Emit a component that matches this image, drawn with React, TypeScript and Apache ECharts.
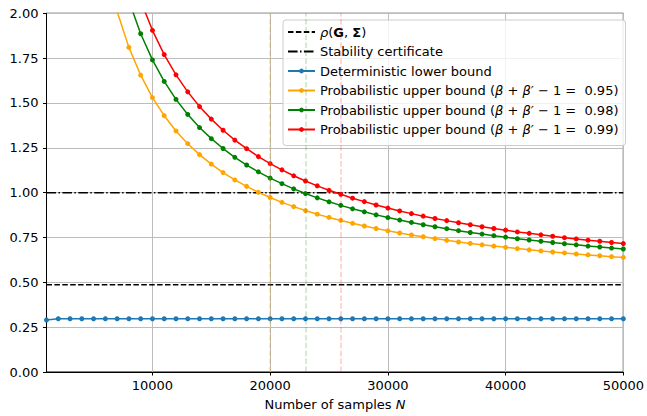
import React, { useEffect, useRef } from 'react';
import * as echarts from 'echarts';

const samples = [
  1000, 2000, 3000, 4000, 5000, 6000, 7000, 8000, 9000, 10000,
  11000, 12000, 13000, 14000, 15000, 16000, 17000, 18000, 19000, 20000,
  21000, 22000, 23000, 24000, 25000, 26000, 27000, 28000, 29000, 30000,
  31000, 32000, 33000, 34000, 35000, 36000, 37000, 38000, 39000, 40000,
  41000, 42000, 43000, 44000, 45000, 46000, 47000, 48000, 49000, 50000,
];

const detLower = [
  0.290, 0.297, 0.297, 0.297, 0.297, 0.297, 0.297, 0.297, 0.297, 0.297,
  0.297, 0.297, 0.297, 0.297, 0.297, 0.297, 0.297, 0.297, 0.297, 0.297,
  0.297, 0.297, 0.297, 0.297, 0.297, 0.297, 0.297, 0.297, 0.297, 0.297,
  0.297, 0.297, 0.297, 0.297, 0.297, 0.297, 0.297, 0.297, 0.297, 0.297,
  0.297, 0.297, 0.297, 0.297, 0.297, 0.297, 0.297, 0.297, 0.297, 0.297,
];

const prob95 = [
  null, null, null, null, null, 2.27, 2.01, 1.81, 1.655, 1.530,
  1.429, 1.344, 1.273, 1.212, 1.159, 1.112, 1.071, 1.035, 1.002, 0.973,
  0.946, 0.922, 0.900, 0.880, 0.862, 0.845, 0.829, 0.814, 0.800, 0.787,
  0.775, 0.764, 0.754, 0.744, 0.734, 0.725, 0.717, 0.709, 0.702, 0.695,
  0.688, 0.681, 0.675, 0.669, 0.664, 0.658, 0.653, 0.648, 0.643, 0.639,
];

const prob98 = [
  null, null, null, null, null, null, 2.30, 2.07, 1.886, 1.740,
  1.620, 1.520, 1.436, 1.363, 1.301, 1.246, 1.197, 1.154, 1.116, 1.081,
  1.050, 1.021, 0.995, 0.971, 0.949, 0.929, 0.910, 0.893, 0.876, 0.861,
  0.847, 0.834, 0.821, 0.810, 0.799, 0.788, 0.778, 0.769, 0.760, 0.752,
  0.743, 0.736, 0.729, 0.722, 0.715, 0.709, 0.702, 0.697, 0.691, 0.686,
];

const prob99 = [
  null, null, null, null, null, null, null, 2.28, 2.07, 1.905,
  1.770, 1.657, 1.562, 1.480, 1.410, 1.348, 1.293, 1.245, 1.201, 1.162,
  1.127, 1.094, 1.065, 1.038, 1.013, 0.991, 0.969, 0.950, 0.931, 0.914,
  0.898, 0.883, 0.869, 0.856, 0.844, 0.832, 0.821, 0.810, 0.800, 0.791,
  0.781, 0.773, 0.765, 0.757, 0.749, 0.742, 0.735, 0.729, 0.722, 0.716,
];

const rhoValue = 0.486;
const stabilityValue = 1.0;
const xTicks = [10000, 20000, 30000, 40000, 50000];
const vLine95 = 20000;
const vLine98 = 23000;
const vLine99 = 26000;

const FONT = 'DejaVu Sans';

const names = [
  'ρ(G, Σ)',
  'Stability certificate',
  'Deterministic lower bound',
  'Probabilistic upper bound (β + β′ − 1 =  0.95)',
  'Probabilistic upper bound (β + β′ − 1 =  0.98)',
  'Probabilistic upper bound (β + β′ − 1 =  0.99)',
];

const legendLabels: Record<string, string> = {
  [names[0]]: '{i|ρ}({b|G}, {b|Σ})',
  [names[1]]: 'Stability certificate',
  [names[2]]: 'Deterministic lower bound',
  [names[3]]: 'Probabilistic upper bound ({i|β} + {i|β′} − 1 =  0.95)',
  [names[4]]: 'Probabilistic upper bound ({i|β} + {i|β′} − 1 =  0.98)',
  [names[5]]: 'Probabilistic upper bound ({i|β} + {i|β′} − 1 =  0.99)',
};

const pairs = (vals: (number | null)[]) => samples.map((n, i) => [n, vals[i]]);

const dashed = [5.5, 2.4];
const dashDot = [9.6, 2.4, 1.5, 2.4];

function vline(x: number, color: string, opacity: number) {
  return {
    silent: true,
    symbol: ['none', 'none'],
    label: { show: false },
    lineStyle: { color, opacity, type: dashed, width: 1.5 },
    data: [{ xAxis: x }],
  };
}

function curve(name: string, vals: (number | null)[], color: string, markLine?: any) {
  return {
    name,
    type: 'line',
    data: pairs(vals),
    symbol: 'circle',
    symbolSize: 5,
    showSymbol: true,
    clip: true,
    lineStyle: { color, width: 1.5 },
    itemStyle: { color },
    z: 3,
    ...(markLine ? { markLine } : {}),
  };
}

export default function App() {
  const ref = useRef<HTMLDivElement>(null);
  useEffect(() => {
    const chart = echarts.init(ref.current!, null, { renderer: 'svg' });
    const hiddenSymbol = { itemStyle: { opacity: 0, color: 'rgba(0,0,0,0)', borderWidth: 0 } };
    const option: any = {
      animation: false,
      textStyle: { fontFamily: FONT },
      grid: {
        left: 46.5,
        right: 21.7,
        top: 13.3,
        bottom: 43.7,
        show: true,
        borderColor: '#000',
        borderWidth: 1,
        backgroundColor: 'transparent',
      },
      xAxis: {
        type: 'value',
        min: 1000,
        max: 50000,
        axisLine: { show: true, onZero: false, lineStyle: { color: '#000', width: 1 } },
        axisTick: { show: true, length: 3.5, customValues: xTicks, lineStyle: { color: '#000', width: 1 } },
        axisLabel: {
          customValues: xTicks,
          color: '#000',
          fontSize: 13,
          fontFamily: FONT,
          margin: 7,
          formatter: (v: number) => String(v),
        },
        splitLine: { show: true, lineStyle: { color: '#bcbcbc', width: 1 } },
        name: 'Number of samples {i|N}',
        nameLocation: 'middle',
        nameGap: 26,
        nameTextStyle: {
          color: '#000',
          fontSize: 13,
          fontFamily: FONT,
          rich: { i: { fontStyle: 'italic', fontSize: 13, fontFamily: FONT, color: '#000' } },
        },
      },
      yAxis: {
        type: 'value',
        min: 0,
        max: 2,
        interval: 0.25,
        axisLine: { show: true, lineStyle: { color: '#000', width: 1 } },
        axisTick: { show: true, length: 3.5, lineStyle: { color: '#000', width: 1 } },
        axisLabel: {
          color: '#000',
          fontSize: 13,
          fontFamily: FONT,
          margin: 8,
          formatter: (v: number) => v.toFixed(2),
        },
        splitLine: { show: true, lineStyle: { color: '#bcbcbc', width: 1 } },
      },
      legend: {
        orient: 'vertical',
        left: 283,
        top: 20,
        itemWidth: 27,
        itemHeight: 6,
        itemGap: 6.5,
        padding: [5.5, 7, 9.5, 4],
        selectedMode: false,
        backgroundColor: 'rgba(255,255,255,0.8)',
        borderColor: '#cccccc',
        borderWidth: 1,
        borderRadius: 3,
        textStyle: {
          color: '#000',
          fontSize: 13,
          lineHeight: 13,
          fontFamily: FONT,
          rich: {
            i: { fontStyle: 'italic', fontSize: 13, fontFamily: FONT, color: '#000' },
            b: { fontWeight: 'bold', fontSize: 13, fontFamily: FONT, color: '#000' },
          },
        },
        formatter: (name: string) => legendLabels[name] ?? name,
        data: [
          { name: names[0], ...hiddenSymbol },
          { name: names[1], ...hiddenSymbol },
          names[2],
          names[3],
          names[4],
          names[5],
        ],
      },
      series: [
        {
          name: names[0],
          type: 'line',
          data: [[samples[0], rhoValue], [samples[samples.length - 1], rhoValue]],
          symbol: 'none',
          lineStyle: { color: '#000', width: 1.5, type: dashed },
          itemStyle: { color: '#000' },
          z: 2,
        },
        {
          name: names[1],
          type: 'line',
          data: [[samples[0], stabilityValue], [samples[samples.length - 1], stabilityValue]],
          symbol: 'none',
          lineStyle: { color: '#000', width: 1.5, type: dashDot },
          itemStyle: { color: '#000' },
          z: 2,
        },
        curve(names[2], detLower, '#1f77b4'),
        curve(names[3], prob95, '#ffa500', vline(vLine95, '#ffa500', 0.35)),
        curve(names[4], prob98, '#008000', vline(vLine98, '#008000', 0.22)),
        curve(names[5], prob99, '#ff0000', vline(vLine99, '#ff0000', 0.22)),
      ],
    };
    chart.setOption(option);
    return () => chart.dispose();
  }, []);
  return <div ref={ref} style={{ position: 'absolute', left: 0, top: 0, width: 647, height: 416 }} />;
}
